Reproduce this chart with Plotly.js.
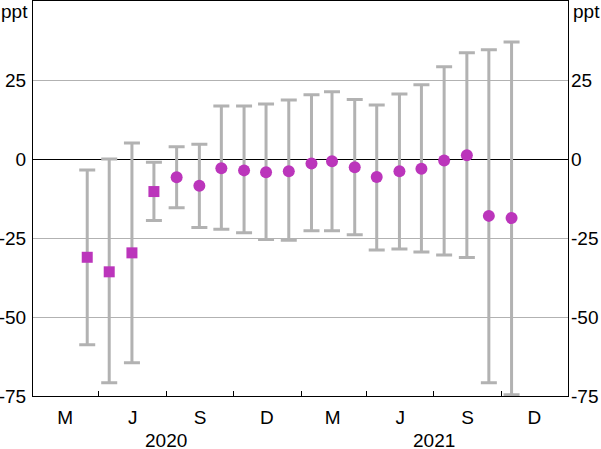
<!DOCTYPE html>
<html>
<head>
<meta charset="utf-8">
<script src="https://cdn.plot.ly/plotly-3.0.1.min.js"></script>
<style>html,body{margin:0;padding:0;background:#fff}#chart{width:601px;height:449px}</style>
</head>
<body>
<div id="chart"></div>
<script>
// Monthly estimates (mid-month) with error ranges, ppt
const sqDates  = ['2020-04-15','2020-05-15','2020-06-15','2020-07-15'];
const sqValues = [-31.1, -35.7, -29.7, -10.3];
const sqUpper  = [-3.5, 0.0, 5.1, -1.0];
const sqLower  = [-58.8, -70.8, -64.5, -19.5];

const ciDates  = ['2020-08-15','2020-09-15','2020-10-15','2020-11-15','2020-12-15',
                  '2021-01-15','2021-02-15','2021-03-15','2021-04-15','2021-05-15','2021-06-15',
                  '2021-07-15','2021-08-15','2021-09-15','2021-10-15','2021-11-15'];
const ciValues = [-5.8, -8.5, -2.9, -3.6, -4.2, -3.9, -1.4, -0.7, -2.6, -5.7, -3.9, -3.1, -0.5, 1.2, -18.0, -18.7];
const ciUpper  = [3.9, 4.7, 16.8, 16.8, 17.4, 18.7, 20.3, 21.3, 18.8, 17.1, 20.6, 23.5, 29.2, 33.6, 34.6, 37.0];
const ciLower  = [-15.4, -21.7, -22.2, -23.3, -25.5, -25.7, -22.7, -22.7, -24.0, -28.8, -28.5, -29.4, -30.4, -31.2, -70.8, -74.6];

// Axis labels
const quarterTicks  = ['2020-05-01','2020-08-01','2020-11-01','2021-02-01','2021-05-01','2021-08-01','2021-11-01'];
const monthLabelPos = ['2020-03-16','2020-06-16','2020-09-16','2020-12-16','2021-03-16','2021-06-16','2021-09-16','2021-12-16'];
const monthLabels   = ['M','J','S','D','M','J','S','D'];
const yearLabelPos  = ['2020-08-01','2021-08-01'];
const yearLabels    = ['2020','2021'];
const yTicks = [-75, -50, -25, 0, 25];
const yTickText = ['-75','-50','-25','0','25'];

const purple = '#bb35bb';
const grey = '#b2b2b2';
const font = {family: 'Liberation Sans, Arial, sans-serif', size: 19, color: '#000'};

function errTrace(x, v, up, lo, symbol, size) {
  return {
    type: 'scatter', mode: 'markers', x: x, y: v,
    marker: {color: purple, symbol: symbol, size: size},
    error_y: {
      type: 'data', symmetric: false,
      array: up.map((u, i) => u - v[i]),
      arrayminus: lo.map((l, i) => v[i] - l),
      color: grey, thickness: 3, width: 8
    },
    showlegend: false, hoverinfo: 'skip'
  };
}

const data = [
  errTrace(sqDates, sqValues, sqUpper, sqLower, 'square', 11),
  errTrace(ciDates, ciValues, ciUpper, ciLower, 'circle', 12),
  {type: 'scatter', x: [], y: [], xaxis: 'x2', yaxis: 'y2', showlegend: false}
];

const xrange = ['2020-02-01', '2022-01-31'];
const layout = {
  width: 601, height: 449,
  margin: {l: 33, r: 33, t: 1, b: 53},
  paper_bgcolor: '#fff', plot_bgcolor: '#fff',
  font: font,
  xaxis: {
    type: 'date', range: xrange,
    tickmode: 'array', tickvals: monthLabelPos, ticktext: monthLabels,
    ticks: '', showgrid: false, zeroline: false,
    showline: true, linecolor: '#000', linewidth: 1, mirror: true,
    tickfont: font, ticklabelstandoff: 4
  },
  xaxis2: {
    type: 'date', range: xrange, overlaying: 'x', anchor: 'y',
    tickmode: 'array', tickvals: quarterTicks, showticklabels: false,
    ticks: 'inside', ticklen: 5, tickcolor: '#000', tickwidth: 1,
    showgrid: false, zeroline: false, showline: false
  },
  yaxis: {
    range: [-75, 50], tickmode: 'array', tickvals: yTicks, ticktext: yTickText,
    ticks: '', showgrid: true, gridcolor: grey, gridwidth: 1,
    zeroline: true, zerolinecolor: '#000', zerolinewidth: 1,
    showline: true, linecolor: '#000', linewidth: 1, mirror: true,
    tickfont: font, ticklabelstandoff: 2
  },
  yaxis2: {
    range: [-75, 50], overlaying: 'y', side: 'right', anchor: 'x',
    tickmode: 'array', tickvals: yTicks, ticktext: yTickText,
    ticks: '', showgrid: false, zeroline: false, showline: false,
    tickfont: font, ticklabelstandoff: 2
  },
  annotations: [
    {text: 'ppt', xref: 'paper', yref: 'paper', x: 0, y: 1, xanchor: 'right', yanchor: 'top', xshift: -3, yshift: 2, showarrow: false, font: font},
    {text: 'ppt', xref: 'paper', yref: 'paper', x: 1, y: 1, xanchor: 'left', yanchor: 'top', xshift: 3, yshift: 2, showarrow: false, font: font}
  ].concat(yearLabels.map((t, i) => ({
    text: t, xref: 'x', yref: 'paper', x: yearLabelPos[i], y: 0, yanchor: 'middle', yshift: -44,
    height: 16, valign: 'middle', borderpad: 0,
    showarrow: false, font: font
  })))
};

Plotly.newPlot('chart', data, layout, {displayModeBar: false, staticPlot: true});
</script>
</body>
</html>
